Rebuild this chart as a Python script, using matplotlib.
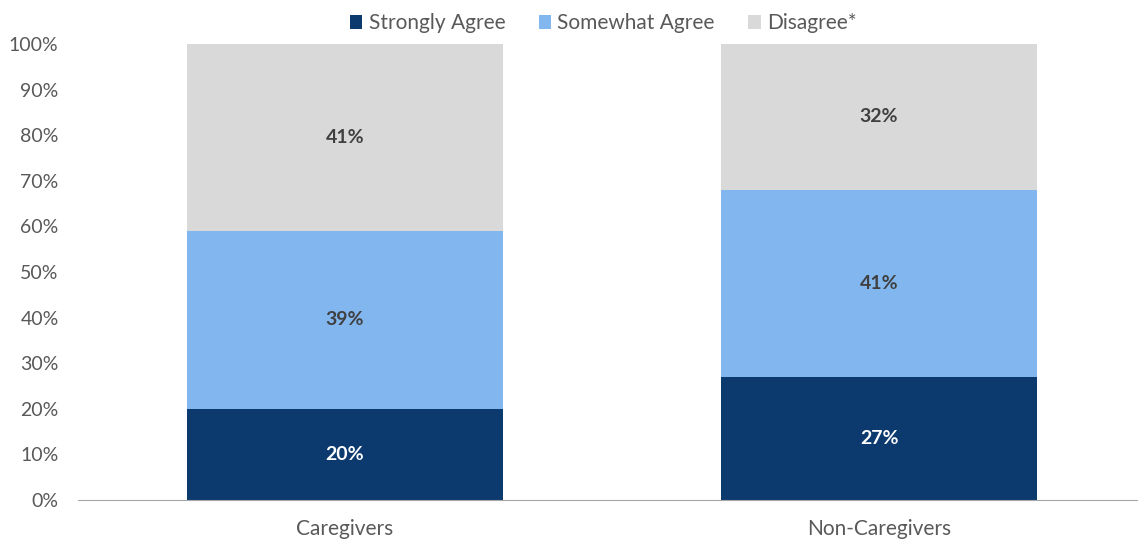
import matplotlib.pyplot as plt
from matplotlib.ticker import PercentFormatter

plt.rcParams['font.family'] = ['Lato', 'DejaVu Sans']

groups = ['Caregivers', 'Non-Caregivers']
series = ['Strongly Agree', 'Somewhat Agree', 'Disagree*']
strongly_agree = [20, 27]
somewhat_agree = [39, 41]
disagree = [41, 32]

colors = ['#0C3A6E', '#82B6EF', '#D9D9D9']
label_colors = ['white', '#404040', '#404040']

fig = plt.figure(figsize=(11.38, 5.4), dpi=100)
ax = fig.add_axes([78 / 1138, 40 / 540, 1060 / 1138, 456 / 540])

x = range(len(groups))
bottom = [0, 0]
for name, vals, c, lc in zip(series, [strongly_agree, somewhat_agree, disagree], colors, label_colors):
    bars = ax.bar(x, vals, width=0.592, bottom=bottom, color=c, label=name)
    for b, v, b0 in zip(bars, vals, bottom):
        ax.text(b.get_x() + b.get_width() / 2, b0 + v / 2, f'{v}%', ha='center', va='center',
                color=lc, fontsize=14, fontweight='bold')
    bottom = [b0 + v for b0, v in zip(bottom, vals)]

ax.set_xlim(-0.5, 1.485)
ax.set_ylim(0, 100)
ax.set_yticks(range(0, 101, 10))
ax.yaxis.set_major_formatter(PercentFormatter(decimals=0))
ax.set_xticks(list(x))
ax.set_xticklabels(groups, fontsize=15, color='#595959')
ax.tick_params(axis='y', labelsize=14, labelcolor='#595959', length=0, pad=14)
ax.tick_params(axis='x', length=0, pad=14)
for s in ['top', 'right', 'left']:
    ax.spines[s].set_visible(False)
ax.spines['bottom'].set_color('#A6A6A6')

fig.legend(loc='upper center', bbox_to_anchor=(0.53, 1.01), ncol=3, frameon=False,
           fontsize=15, labelcolor='#595959', handlelength=0.6, handleheight=0.6,
           handletextpad=0.3, columnspacing=1.6)

fig.savefig('out.png', dpi=100)
